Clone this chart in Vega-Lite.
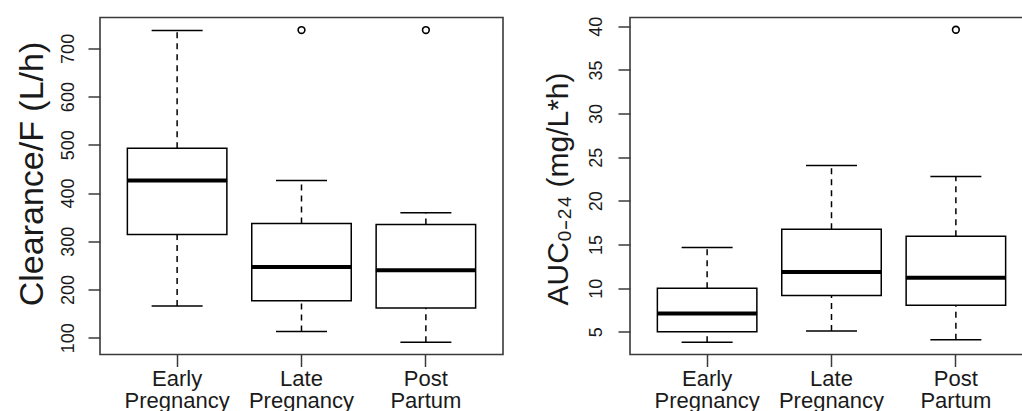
{
  "$schema": "https://vega.github.io/schema/vega-lite/v6.json",
  "background": "white",
  "padding": {"left": 14, "top": 14.5, "right": 0, "bottom": 0},
  "bounds": "flush",
  "spacing": 127,
  "config": {
    "font": "Liberation Sans",
    "view": {"stroke": "#3a3a3a", "strokeWidth": 1.6},
    "axis": {"grid": false, "domain": false, "tickColor": "#3a3a3a", "tickWidth": 1.5, "tickSize": 12, "labelColor": "#1a1a1a", "titleColor": "#1a1a1a", "titleFontWeight": "normal", "labelFont": "Liberation Sans", "titleFont": "Liberation Sans"},
    "axisY": {"labelFontSize": 18, "labelAngle": -90, "labelAlign": "center", "labelBaseline": "alphabetic", "labelPadding": 15, "titleFontSize": 34, "titleAngle": -90, "titleAlign": "center", "titleBaseline": "alphabetic"},
    "axisX": {"labelFontSize": 22, "labelLineHeight": 22, "labelAngle": 0, "labelAlign": "center", "labelBaseline": "alphabetic", "labelPadding": 19}
  },
  "datasets": {
    "clr": [
      {"group": "Early Pregnancy", "lo": 166, "q1": 314, "med": 426, "q3": 493, "hi": 737},
      {"group": "Late Pregnancy", "lo": 113, "q1": 177, "med": 247, "q3": 337, "hi": 426},
      {"group": "Post Partum", "lo": 91, "q1": 162, "med": 240, "q3": 335, "hi": 359}
    ],
    "clr_out": [
      {"group": "Late Pregnancy", "v": 738},
      {"group": "Post Partum", "v": 738}
    ],
    "auc": [
      {"group": "Early Pregnancy", "lo": 3.8, "q1": 5.0, "med": 7.1, "q3": 10.0, "hi": 14.65},
      {"group": "Late Pregnancy", "lo": 5.1, "q1": 9.15, "med": 11.85, "q3": 16.75, "hi": 24.05},
      {"group": "Post Partum", "lo": 4.1, "q1": 8.05, "med": 11.2, "q3": 15.95, "hi": 22.8}
    ],
    "auc_out": [
      {"group": "Post Partum", "v": 39.6}
    ]
  },
  "hconcat": [
    {
      "width": 403,
      "height": 337,
      "data": {"name": "clr"},
      "encoding": {
        "x": {
          "field": "group", "type": "nominal", "sort": null,
          "scale": {"paddingInner": 0, "paddingOuter": 0.12},
          "axis": {"title": null, "labelExpr": "split(datum.label, ' ')"}
        }
      },
      "layer": [
        {
          "mark": {"type": "rule", "stroke": "black", "strokeWidth": 1.5, "strokeDash": [6, 5]},
          "encoding": {
            "y": {"field": "lo", "type": "quantitative", "scale": {"domain": [65.4, 764], "nice": false, "zero": false},
              "axis": {"title": "Clearance/F (L/h)", "values": [100, 200, 300, 400, 500, 600, 700], "titleX": -58, "titleY": 156}},
            "y2": {"field": "q1"}
          }
        },
        {
          "mark": {"type": "rule", "stroke": "black", "strokeWidth": 1.5, "strokeDash": [6, 5]},
          "encoding": {"y": {"field": "q3", "type": "quantitative"}, "y2": {"field": "hi"}}
        },
        {
          "mark": {"type": "tick", "color": "black", "size": 51, "thickness": 1.5, "orient": "horizontal", "opacity": 1},
          "encoding": {"y": {"field": "lo", "type": "quantitative"}}
        },
        {
          "mark": {"type": "tick", "color": "black", "size": 51, "thickness": 1.5, "orient": "horizontal", "opacity": 1},
          "encoding": {"y": {"field": "hi", "type": "quantitative"}}
        },
        {
          "mark": {"type": "bar", "width": {"band": 0.8}, "fill": "white", "stroke": "black", "strokeWidth": 1.5},
          "encoding": {"y": {"field": "q1", "type": "quantitative"}, "y2": {"field": "q3"}}
        },
        {
          "mark": {"type": "tick", "color": "black", "size": 100, "thickness": 4, "orient": "horizontal", "opacity": 1},
          "encoding": {"y": {"field": "med", "type": "quantitative"}}
        },
        {
          "data": {"name": "clr_out"},
          "mark": {"type": "point", "shape": "circle", "filled": false, "stroke": "black", "strokeWidth": 1.6, "size": 45, "opacity": 1},
          "encoding": {"y": {"field": "v", "type": "quantitative"}}
        }
      ]
    },
    {
      "width": 403,
      "height": 337,
      "data": {"name": "auc"},
      "encoding": {
        "x": {
          "field": "group", "type": "nominal", "sort": null,
          "scale": {"paddingInner": 0, "paddingOuter": 0.12},
          "axis": {"title": null, "labelExpr": "split(datum.label, ' ')"}
        }
      },
      "layer": [
        {
          "mark": {"type": "rule", "stroke": "black", "strokeWidth": 1.5, "strokeDash": [6, 5]},
          "encoding": {
            "y": {"field": "lo", "type": "quantitative", "scale": {"domain": [2.4, 41.0], "nice": false, "zero": false},
              "axis": {"title": "AUC₀₋₂₄ (mg/L*h)", "values": [5, 10, 15, 20, 25, 30, 35, 40], "labelPadding": 17, "titleFontSize": 30, "titleX": -63, "titleY": 171}},
            "y2": {"field": "q1"}
          }
        },
        {
          "mark": {"type": "rule", "stroke": "black", "strokeWidth": 1.5, "strokeDash": [6, 5]},
          "encoding": {"y": {"field": "q3", "type": "quantitative"}, "y2": {"field": "hi"}}
        },
        {
          "mark": {"type": "tick", "color": "black", "size": 51, "thickness": 1.5, "orient": "horizontal", "opacity": 1},
          "encoding": {"y": {"field": "lo", "type": "quantitative"}}
        },
        {
          "mark": {"type": "tick", "color": "black", "size": 51, "thickness": 1.5, "orient": "horizontal", "opacity": 1},
          "encoding": {"y": {"field": "hi", "type": "quantitative"}}
        },
        {
          "mark": {"type": "bar", "width": {"band": 0.8}, "fill": "white", "stroke": "black", "strokeWidth": 1.5},
          "encoding": {"y": {"field": "q1", "type": "quantitative"}, "y2": {"field": "q3"}}
        },
        {
          "mark": {"type": "tick", "color": "black", "size": 100, "thickness": 4, "orient": "horizontal", "opacity": 1},
          "encoding": {"y": {"field": "med", "type": "quantitative"}}
        },
        {
          "data": {"name": "auc_out"},
          "mark": {"type": "point", "shape": "circle", "filled": false, "stroke": "black", "strokeWidth": 1.6, "size": 45, "opacity": 1},
          "encoding": {"y": {"field": "v", "type": "quantitative"}}
        }
      ]
    }
  ]
}
